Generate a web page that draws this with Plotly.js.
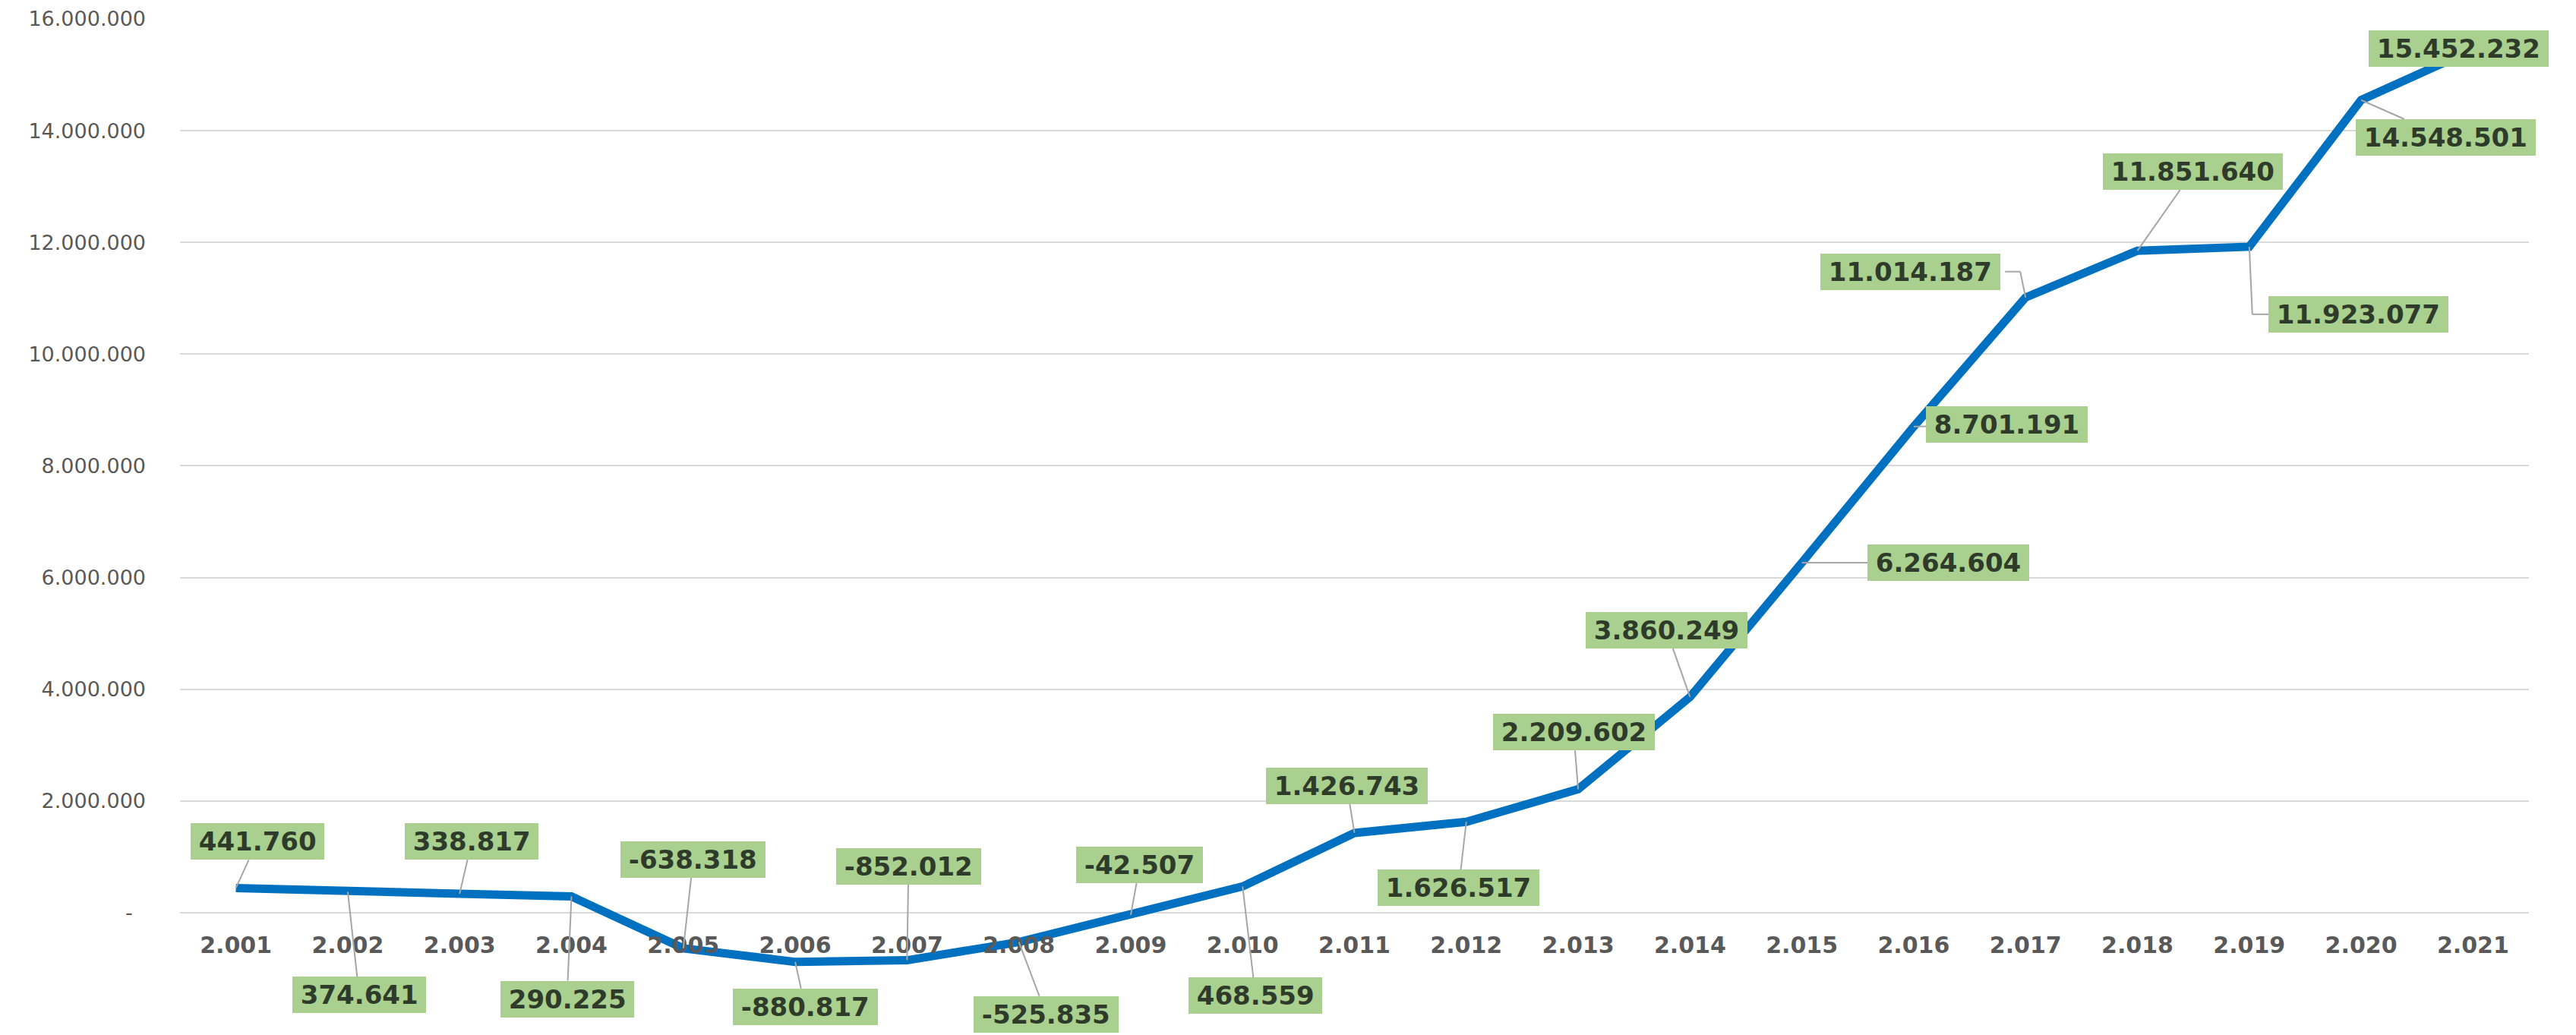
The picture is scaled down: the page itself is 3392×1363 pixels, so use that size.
<!DOCTYPE html>
<html>
<head>
<meta charset="utf-8">
<script src="https://cdn.plot.ly/plotly-3.0.1.min.js"></script>
<style>
html,body{margin:0;padding:0;background:#ffffff;}
#chart{width:3392px;height:1363px;}
</style>
</head>
<body>
<div id="chart"></div>
<script>
// ---- data ----
const years = ["2.001","2.002","2.003","2.004","2.005","2.006","2.007","2.008","2.009","2.010",
               "2.011","2.012","2.013","2.014","2.015","2.016","2.017","2.018","2.019","2.020","2.021"];
const values = [441760, 374641, 338817, 290225, -638318, -880817, -852012, -525835, -42507, 468559,
                1426743, 1626517, 2209602, 3860249, 6264604, 8701191, 11014187, 11851640, 11923077, 14548501, 15452232];
const yTickVals = [-2000000, 0, 2000000, 4000000, 6000000, 8000000, 10000000, 12000000, 14000000, 16000000];
const yTickText = ["-2.000.000", "-\u00a0\u00a0", "2.000.000", "4.000.000", "6.000.000", "8.000.000",
                   "10.000.000", "12.000.000", "14.000.000", "16.000.000"];
const yRange = [-2000000, 16000000];

// ---- label placement (pixel offsets of each data-label box from its point) ----
const labelDX = [28, 15, 16, -6, 13, 13, 2, 36, 12, 17, -10, -10, -6, -31, 193, 123, -152, 73, 144, 111, -19];
const labelDY = [-61, 136, -69, 135, -117, 59, -124, 95, -66, 144, -62, 87, -75, -88, 0, -3, -34, -104, 89, 49, -1];
// labels whose leader line is drawn as an elbow: [index, path of pixel offsets (x right, y up)]
const elbowLeaders = [
  [16, [[0, 0], [-7, 34], [-27, 34]]],
  [18, [[0, 0], [4, -89], [26, -89]]]
];

function fmt(v) {
  const s = Math.abs(v).toString().replace(/\B(?=(\d{3})+(?!\d))/g, ".");
  return (v < 0 ? "-" : "") + s;
}

const trace = {
  type: "scatter",
  mode: "lines",
  x: years,
  y: values,
  line: {color: "#0070c0", width: 11, shape: "linear"},
  hoverinfo: "skip",
  showlegend: false
};

const elbowIdx = elbowLeaders.map(e => e[0]);

const annotations = years.map((yr, i) => ({
  x: i,
  y: values[i],
  xref: "x",
  yref: "y",
  text: "\u2009" + fmt(values[i]) + "\u2009",
  showarrow: true,
  arrowhead: 0,
  arrowwidth: 2,
  arrowcolor: elbowIdx.includes(i) ? "rgba(0,0,0,0)" : "#a6a6a6",
  standoff: 0,
  startstandoff: 0,
  ax: labelDX[i],
  ay: labelDY[i],
  axref: "pixel",
  ayref: "pixel",
  bgcolor: "#a9d08e",
  borderpad: 4,
  borderwidth: 0,
  font: {family: "DejaVu Sans", size: 34, color: "#2f3b2a", weight: "bold"}
}));

const shapes = [];
elbowLeaders.forEach(([i, pts]) => {
  for (let k = 0; k < pts.length - 1; k++) {
    shapes.push({
      type: "line",
      xref: "x", yref: "y",
      xsizemode: "pixel", ysizemode: "pixel",
      xanchor: i, yanchor: values[i],
      x0: pts[k][0], y0: pts[k][1],
      x1: pts[k + 1][0], y1: pts[k + 1][1],
      line: {color: "#a6a6a6", width: 2},
      layer: "above"
    });
  }
});

const layout = {
  width: 3392,
  height: 1363,
  margin: {l: 237, r: 62, t: 25, b: 14, pad: 0},
  paper_bgcolor: "#ffffff",
  plot_bgcolor: "#ffffff",
  separators: ",.",
  showlegend: false,
  xaxis: {
    type: "category",
    range: [-0.5, years.length - 0.5],
    anchor: "free",
    position: (0 - yRange[0]) / (yRange[1] - yRange[0]),
    showgrid: false,
    showline: false,
    zeroline: false,
    ticks: "",
    ticklabelstandoff: 22,
    tickfont: {family: "DejaVu Sans", size: 30, color: "#595959", weight: "bold"},
    fixedrange: true
  },
  yaxis: {
    range: yRange,
    tickvals: yTickVals,
    ticktext: yTickText,
    showgrid: true,
    gridcolor: "#d9d9d9",
    gridwidth: 2,
    zeroline: false,
    showline: false,
    ticks: "",
    ticklabelstandoff: 44,
    tickfont: {family: "DejaVu Sans", size: 27, color: "#595959"},
    fixedrange: true
  },
  shapes: shapes,
  annotations: annotations
};

Plotly.newPlot("chart", [trace], layout, {displayModeBar: false, staticPlot: true});
</script>
</body>
</html>
